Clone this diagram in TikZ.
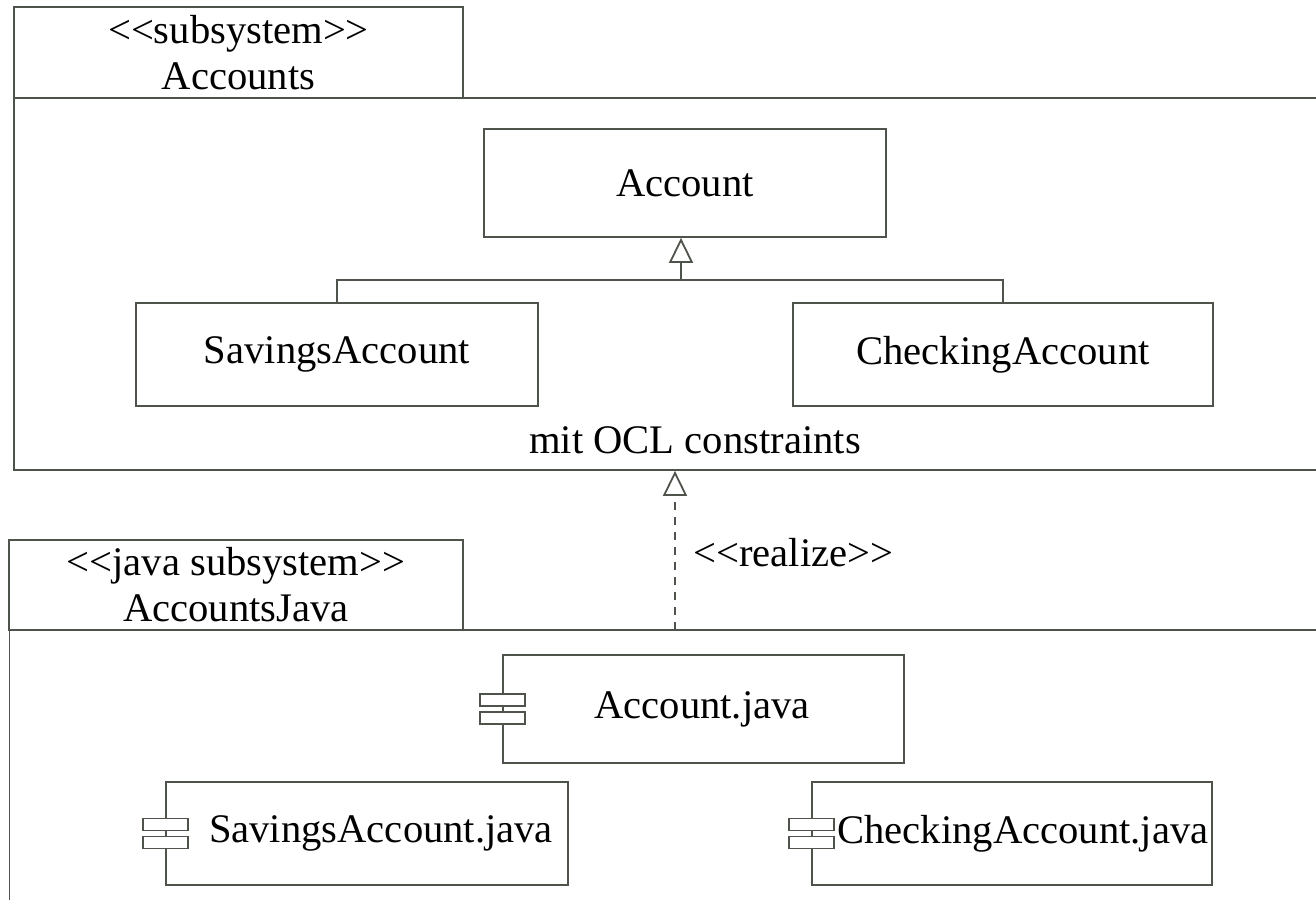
\documentclass[tikz,border=0pt]{standalone}
\usepackage{fontspec}
\setmainfont{Liberation Serif}
\usepackage{tikz}
\usetikzlibrary{arrows.meta,positioning,calc}
\usepackage{xcolor}
\definecolor{UmlLine}{HTML}{4E534B}

\tikzset{
  umlbox/.style={draw=UmlLine,line width=0.9pt,fill=white,inner sep=0pt,font=\fontsize{20.3}{23}\selectfont},
  tabbox/.style={umlbox,align=center},
  gen/.style={draw=UmlLine,line width=0.9pt,-{Triangle[open,width=12pt,length=12.5pt]}},
  real/.style={gen,dash pattern=on 4pt off 3.5pt},
  lbl/.style={inner sep=0pt,font=\fontsize{20.3}{23}\selectfont},
}
% stereotype brackets (kern keeps << from turning into a guillemet)
\newcommand{\stereo}[1]{<\kern0pt<#1>\kern0pt>}
% small component symbol on the left edge of a node
\newcommand{\compicon}[1]{%
  \draw[draw=UmlLine,line width=0.9pt,fill=white] ([shift={(-22,-15)}]#1.west) rectangle ++(45,12);
  \draw[draw=UmlLine,line width=0.9pt,fill=white] ([shift={(-22,3)}]#1.west) rectangle ++(45,12);
}

\begin{document}
\begin{tikzpicture}[x=0.5pt,y=-0.5pt]
\useasboundingbox (0,0) rectangle (1316,899);
\clip (0,0) rectangle (1316,899);

% subsystem Accounts
\node[umlbox,minimum width=693pt,minimum height=186pt] (accbody) at (707,284) {};
\node[tabbox,minimum width=224.5pt,minimum height=45.5pt] (acctab) at (238.5,52.5) {\stereo{subsystem}\\Accounts};
\node[umlbox,minimum width=201pt,minimum height=54pt] (acc) at (685,183) {Account};
\node[umlbox,minimum width=201pt,minimum height=51.5pt] (sav) at (337,354.5) {SavingsAccount};
\node[umlbox,minimum width=210pt,minimum height=51.5pt] (chk) at (1003,354.5) {CheckingAccount};
\node[lbl] (ocl) at (695,440) {mit OCL constraints};

\coordinate (jn) at (681,280);
\draw[draw=UmlLine,line width=0.9pt] (sav.north) |- (jn) -| (chk.north);
\draw[gen] (jn) -- (acc.south -| jn);

% java subsystem AccountsJava
\node[umlbox,minimum width=700pt,minimum height=200pt] (javbody) at (709.5,830) {};
\node[tabbox,minimum width=227pt,minimum height=45pt] (javtab) at (236,585) {\stereo{java subsystem}\\AccountsJava};
\node[umlbox,minimum width=200.5pt,minimum height=54pt] (accj) at (703.5,709) {};
\node[umlbox,minimum width=201pt,minimum height=51.5pt] (savj) at (367,833.5) {};
\node[umlbox,minimum width=200pt,minimum height=51.5pt] (chkj) at (1012,833.5) {};
\node[lbl] at (702,709) {Account.java};
\node[lbl] at (381,833.5) {SavingsAccount.java};
\node[lbl] at (1023,833.5) {CheckingAccount.java};
\compicon{accj}
\compicon{savj}
\compicon{chkj}

% realization
\coordinate (rz) at (675,630);
\draw[real] (rz) -- (accbody.south -| rz);
\node[lbl,anchor=west] (rlz) at (693,553) {\stereo{realize}};
\end{tikzpicture}
\end{document}
